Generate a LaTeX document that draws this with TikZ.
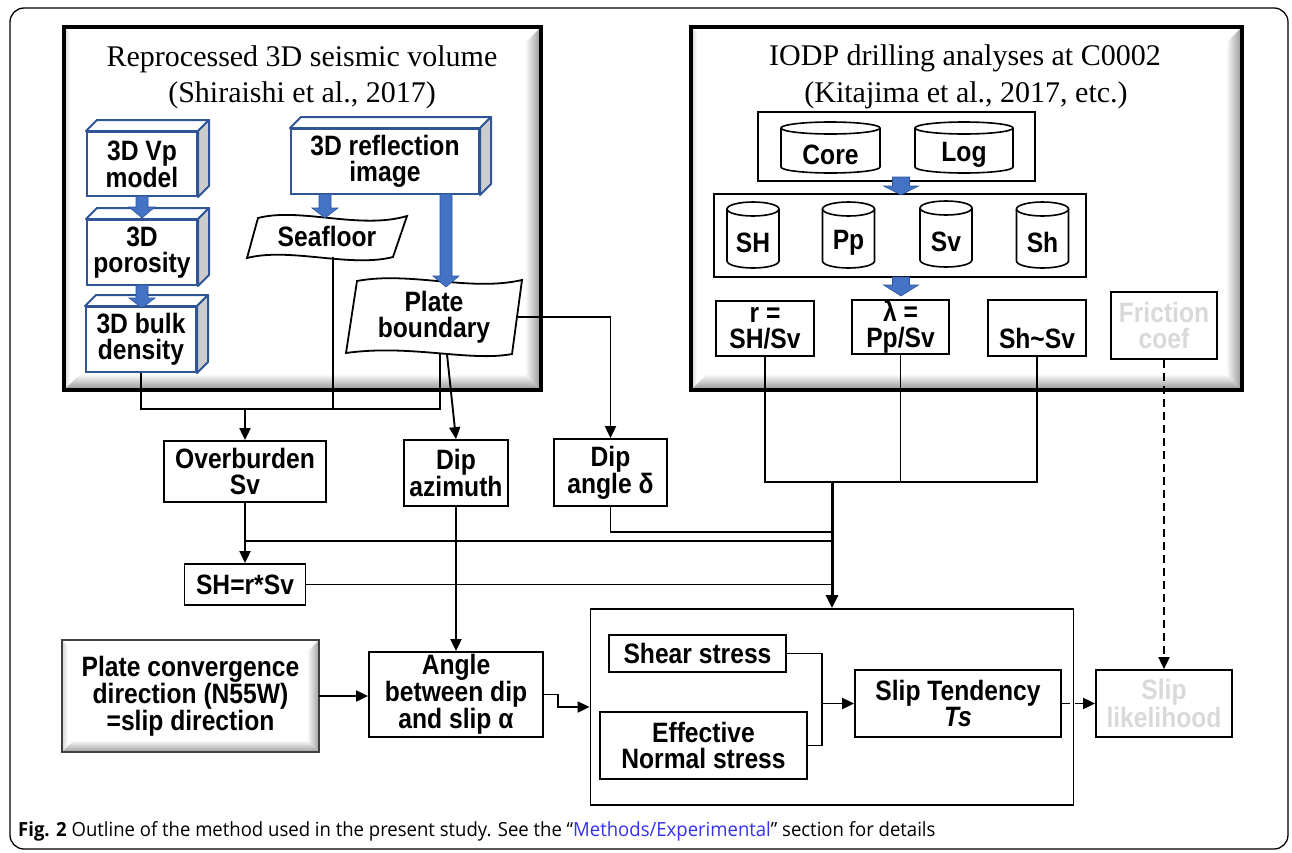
\documentclass[tikz,border=0pt]{standalone}
\usepackage{fontspec}
\setmainfont{Liberation Serif}
\newfontfamily\nb[FakeStretch=0.88]{Liberation Sans}
\newfontfamily\capfont[FakeStretch=0.95]{Open Sans}
\usetikzlibrary{arrows.meta,calc}
\definecolor{bfill}{HTML}{4472C4}
\definecolor{bedge}{HTML}{2F5597}
\definecolor{lgtext}{HTML}{D9D9D9}
\definecolor{capblue}{HTML}{3333EE}
\newcommand\boxfont{\nb\bfseries\fontsize{28}{26}\selectfont}
\tikzset{
 box/.style={draw, line width=1.8pt, fill=white, align=center, inner sep=0pt, font=\boxfont},
 gbox/.style={box, text=lgtext},
 conn/.style={line width=1.9pt},
 arr/.style={conn, -{Triangle[length=12pt,width=11pt]}},
 darr/.style={arr, dash pattern=on 8pt off 5pt},
 cubefront/.style={draw=bedge, line width=2pt, fill=white, align=center, inner sep=0pt, font=\boxfont},
 cubeedge/.style={draw=bedge, line width=2pt, line join=round},
 cylst/.style={draw, line width=1.6pt, fill=white},
 ttl/.style={font=\fontsize{30}{36}\selectfont, anchor=base, inner sep=0pt}
}
\newcommand\bevel[6]{%
 \fill[white] (#1,#2) rectangle (#3,#4);
 \shade[left color=gray!35, right color=white] (#1,#2) -- ({#1+6},{#2+6}) -- ({#1+6},{#4-6}) -- (#1,#4) -- cycle;
 \shade[left color=white, right color=#6] ({#3-#5},{#2+#5}) -- (#3,#2) -- (#3,#4) -- ({#3-#5},{#4-#5}) -- cycle;
 \shade[top color=white, bottom color=#6] ({#1+#5},{#4-#5}) -- ({#3-#5},{#4-#5}) -- (#3,#4) -- (#1,#4) -- cycle;}
\newcommand\cube[6]{%
 \node[cubefront, minimum width=#4pt, minimum height=#5pt] (#1) at (#2,#3) {#6};
 \draw[cubeedge, fill=white] (#1.north west) -- ++(11,-11) -- ([shift={(11,-11)}]#1.north east) -- (#1.north east) -- cycle;
 \draw[cubeedge, fill=gray!40] (#1.north east) -- ++(11,-11) -- ([shift={(11,-11)}]#1.south east) -- (#1.south east) -- cycle;}
\newcommand\barrow[6]{%
 \filldraw[fill=bfill, draw=bedge, line width=0.6pt] ({#1-#4},#2) -- ({#1+#4},#2) -- ({#1+#4},{#3-#6}) -- ({#1+#5},{#3-#6}) -- (#1,#3) -- ({#1-#5},{#3-#6}) -- ({#1-#4},{#3-#6}) -- cycle;}
\newcommand\cyl[7]{%
 \draw[cylst] ({#2-#4/2},{#3+#6}) -- ({#2-#4/2},{#3+#5-#6}) arc[start angle=180, end angle=0, x radius={#4/2}, y radius={#6}] -- ({#2+#4/2},{#3+#6});
 \draw[cylst] (#2,{#3+#6}) ellipse[x radius={#4/2}, y radius={#6}];
 \node[font=\boxfont, inner sep=0pt] (#1) at (#2,{#3+#5/2+#6/2+4}) {#7};}
\begin{document}
\begin{tikzpicture}[x=1pt,y=-1pt]
\useasboundingbox (0,0) rectangle (1292,852);
\fill[white] (0,0) rectangle (1292,852);
\draw[line width=1.3pt, rounded corners=14pt] (10,8) rectangle (1288,849);

% big frames
\bevel{64}{27}{541}{390}{16}{gray!85}
\draw[line width=4pt] (64,27) rectangle (541,390);
\bevel{691}{27}{1242}{390}{16}{gray!85}
\draw[line width=4pt] (691,27) rectangle (1242,390);

\node[ttl] (t1a) at (302,66) {Reprocessed 3D seismic volume};
\node[ttl] (t1b) at (302,102) {(Shiraishi et al., 2017)};
\node[ttl] (t2a) at (965,65) {IODP drilling analyses at C0002};
\node[ttl] (t2b) at (966,102) {(Kitajima et al., 2017, etc.)};

% seismic volume
\cube{vp}{142}{164}{110}{64}{3D Vp\\model}
\cube{por}{142}{252.5}{110}{65}{3D\\porosity}
\cube{bulk}{141}{339.5}{110}{65}{3D bulk\\density}
\cube{refl}{385}{161.5}{188}{65}{3D reflection\\image}

\filldraw[line width=1.8pt, fill=white] (258,218) .. controls (300,207) and (360,230) .. (407,216) -- (393,257) .. controls (350,268) and (290,247) .. (247,258) -- cycle;
\node[font=\boxfont, inner sep=0pt, minimum width=160pt, minimum height=41pt] (sf) at (327,236) {Seafloor};
\filldraw[line width=1.8pt, fill=white] (357,281) .. controls (410,271) and (470,292) .. (522,280) -- (512,354) .. controls (470,362) and (410,344) .. (346,353) -- cycle;
\node[font=\boxfont, inner sep=0pt, align=center, minimum width=166pt, minimum height=74pt] (pb) at (434,317) {Plate\\boundary};

\barrow{142}{196}{218}{6}{13}{11}
\barrow{142}{285}{308}{6}{13}{10}
\barrow{325}{194}{218}{6}{13}{10}
\barrow{446}{194}{287}{6}{13}{11}

% IODP
\node[box, fill=none, minimum width=277pt, minimum height=69pt] (cl) at (896.5,146.5) {};
\cyl{core}{830.5}{122}{99}{51}{6}{Core}
\cyl{log}{964}{122}{98}{51}{6}{Log}
\node[box, fill=none, minimum width=372pt, minimum height=83pt] (cg) at (900,235.5) {};
\cyl{cSH}{753}{202}{52}{66}{7}{SH}
\cyl{cPp}{848.5}{202}{52}{66}{7}{Pp}
\cyl{cSv}{946}{201}{52}{66}{7}{Sv}
\cyl{cSh}{1042.5}{202}{52}{66}{7}{Sh}
\barrow{901}{177}{195}{8.5}{17.5}{9}
\barrow{901}{277}{296}{8.5}{17.5}{11}

\node[box, minimum width=98pt, minimum height=55pt] (rbox) at (765,328.5) {r =\\SH/Sv};
\node[box, minimum width=97pt, minimum height=54pt] (lam) at (900.5,327) {λ =\\Pp/Sv};
\node[box, minimum width=98pt, minimum height=56pt] (shsv) at (1037,328) {\phantom{r =}\\Sh\textasciitilde Sv};
\node[gbox, minimum width=106pt, minimum height=67pt] (fric) at (1164,325.5) {Friction\\coef};

% middle
\node[box, minimum width=162pt, minimum height=61pt] (ovb) at (245,471.5) {Overburden\\Sv};
\node[box, minimum width=104pt, minimum height=66pt] (dipaz) at (456,473) {Dip\\azimuth};
\node[box, minimum width=113pt, minimum height=67pt] (dipang) at (610.5,472.5) {Dip\\angle δ};
\node[box, minimum width=121pt, minimum height=41pt] (shr) at (245,584.5) {SH=r*Sv};

% bottom
\bevel{62}{640}{319}{752}{12}{gray!75}
\draw[line width=2pt, draw=gray!50!black] (62,640) rectangle (319,752);
\node[font=\boxfont, align=center, inner sep=0pt, minimum width=257pt, minimum height=112pt] (conv) at (190.5,696) {Plate convergence\\direction (N55W)\\=slip direction};
\node[box, minimum width=174pt, minimum height=85pt] (angle) at (456,694.5) {Angle\\between dip\\and slip α};
\node[box, minimum width=483pt, minimum height=196pt] (stress) at (832,707) {};
\node[box, minimum width=177pt, minimum height=37pt] (shear) at (697.5,653.5) {Shear stress};
\node[box, minimum width=207pt, minimum height=67pt] (eff) at (703.5,745.5) {Effective\\Normal stress};
\node[box, minimum width=206pt, minimum height=67pt] (st) at (958,703.5) {Slip Tendency\\{\itshape Ts}};
\node[gbox, minimum width=136pt, minimum height=67pt] (sl) at (1164,703.5) {Slip\\likelihood};

% connectors
\coordinate (jl) at (440,409);
\coordinate (jsf) at (333,409);
\coordinate (jov) at (245,409);
\coordinate (jr) at (832,482);
\coordinate (jda) at (832,532);
\coordinate (jsv) at (832,541);
\coordinate (jst) at (822,703.5);
\draw[conn] (bulk.south) |- (jl) -- ($(pb.south)+(6,0)$);
\draw[conn] ($(sf.south)+(6,0)$) -- (jsf);
\draw[arr] (jov) -- (ovb.north);
\draw[arr] ($(pb.south)+(13,0)$) -- (dipaz.north);
\draw[arr] (pb.east) -| (dipang.north);
\draw[conn] (rbox.south) |- (jr);
\draw[conn] (lam.south) -- (lam.south |- jr);
\draw[conn] (shsv.south) |- (jr);
\draw[conn] (dipang.south) |- (jda);
\draw[conn] (ovb.south) |- (jsv);
\draw[arr] (ovb.south |- jsv) -- (shr.north);
\draw[conn] (shr.east) -- (shr.east -| jr);
\draw[line width=3pt, -{Triangle[length=13pt,width=12pt]}] (jr) -- (stress.north);
\draw[arr] (dipaz.south) -- (angle.north);
\draw[arr] (conv.east) -- (conv.east -| angle.west);
\draw[arr] (angle.east) -- ++(14,0) |- (stress.west);
\draw[conn] (shear.east) -| (jst) |- (eff.east);
\draw[arr] (jst) -- (st.west);
\draw[darr] (st.east) -- (sl.west);
\draw[darr] (fric.south) -- (sl.north);

% caption
\node[anchor=base west, inner sep=0pt, font=\capfont\fontsize{19.5}{22}\selectfont] (cap) at (18,836) {\textbf{Fig. 2} Outline of the method used in the present study. See the “\textcolor{capblue}{Methods/Experimental}” section for details};
\end{tikzpicture}
\end{document}
